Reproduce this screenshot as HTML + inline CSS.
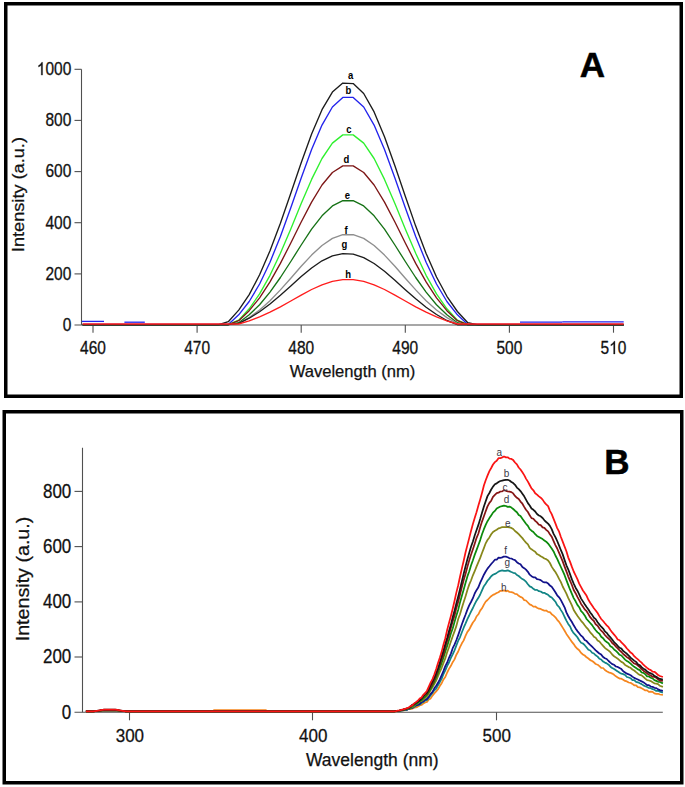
<!DOCTYPE html>
<html><head><meta charset="utf-8"><title>Fluorescence spectra</title>
<style>html,body{margin:0;padding:0;background:#fff;}body{width:685px;height:787px;overflow:hidden;font-family:"Liberation Sans",sans-serif;}svg{display:block;}</style>
</head><body>
<svg width="685" height="787" viewBox="0 0 685 787">
<rect width="685" height="787" fill="#fff"/>
<rect x="5.75" y="3.75" width="675.5" height="392.5" fill="none" stroke="#000" stroke-width="3.5"/>
<rect x="4.25" y="411.75" width="677.5" height="371" fill="none" stroke="#000" stroke-width="3.5"/>
<g stroke="#505050" stroke-width="1.1" fill="none">
<line x1="81.5" y1="69.3" x2="81.5" y2="325"/>
<line x1="74.5" y1="325" x2="624" y2="325"/>
<line x1="74.5" y1="273.9" x2="81.5" y2="273.9"/>
<line x1="74.5" y1="222.7" x2="81.5" y2="222.7"/>
<line x1="74.5" y1="171.6" x2="81.5" y2="171.6"/>
<line x1="74.5" y1="120.4" x2="81.5" y2="120.4"/>
<line x1="74.5" y1="69.3" x2="81.5" y2="69.3"/>
<line x1="93.00" y1="325" x2="93.00" y2="332.7"/>
<line x1="197.10" y1="325" x2="197.10" y2="332.7"/>
<line x1="301.20" y1="325" x2="301.20" y2="332.7"/>
<line x1="405.30" y1="325" x2="405.30" y2="332.7"/>
<line x1="509.40" y1="325" x2="509.40" y2="332.7"/>
<line x1="613.50" y1="325" x2="613.50" y2="332.7"/>
</g>
<text x="62.68" y="330.80" font-family="Liberation Sans, sans-serif" fill="#111" stroke="#111" stroke-width="0.25" font-size="15.5" transform="translate(0,330.80) scale(1,1.2) translate(0,-330.80)">0</text>
<text x="45.44" y="279.66" font-family="Liberation Sans, sans-serif" fill="#111" stroke="#111" stroke-width="0.25" font-size="15.5" transform="translate(0,279.66) scale(1,1.2) translate(0,-279.66)">2</text>
<text x="54.06" y="279.66" font-family="Liberation Sans, sans-serif" fill="#111" stroke="#111" stroke-width="0.25" font-size="15.5" transform="translate(0,279.66) scale(1,1.2) translate(0,-279.66)">0</text>
<text x="62.68" y="279.66" font-family="Liberation Sans, sans-serif" fill="#111" stroke="#111" stroke-width="0.25" font-size="15.5" transform="translate(0,279.66) scale(1,1.2) translate(0,-279.66)">0</text>
<text x="45.44" y="228.52" font-family="Liberation Sans, sans-serif" fill="#111" stroke="#111" stroke-width="0.25" font-size="15.5" transform="translate(0,228.52) scale(1,1.2) translate(0,-228.52)">4</text>
<text x="54.06" y="228.52" font-family="Liberation Sans, sans-serif" fill="#111" stroke="#111" stroke-width="0.25" font-size="15.5" transform="translate(0,228.52) scale(1,1.2) translate(0,-228.52)">0</text>
<text x="62.68" y="228.52" font-family="Liberation Sans, sans-serif" fill="#111" stroke="#111" stroke-width="0.25" font-size="15.5" transform="translate(0,228.52) scale(1,1.2) translate(0,-228.52)">0</text>
<text x="45.44" y="177.38" font-family="Liberation Sans, sans-serif" fill="#111" stroke="#111" stroke-width="0.25" font-size="15.5" transform="translate(0,177.38) scale(1,1.2) translate(0,-177.38)">6</text>
<text x="54.06" y="177.38" font-family="Liberation Sans, sans-serif" fill="#111" stroke="#111" stroke-width="0.25" font-size="15.5" transform="translate(0,177.38) scale(1,1.2) translate(0,-177.38)">0</text>
<text x="62.68" y="177.38" font-family="Liberation Sans, sans-serif" fill="#111" stroke="#111" stroke-width="0.25" font-size="15.5" transform="translate(0,177.38) scale(1,1.2) translate(0,-177.38)">0</text>
<text x="45.44" y="126.24" font-family="Liberation Sans, sans-serif" fill="#111" stroke="#111" stroke-width="0.25" font-size="15.5" transform="translate(0,126.24) scale(1,1.2) translate(0,-126.24)">8</text>
<text x="54.06" y="126.24" font-family="Liberation Sans, sans-serif" fill="#111" stroke="#111" stroke-width="0.25" font-size="15.5" transform="translate(0,126.24) scale(1,1.2) translate(0,-126.24)">0</text>
<text x="62.68" y="126.24" font-family="Liberation Sans, sans-serif" fill="#111" stroke="#111" stroke-width="0.25" font-size="15.5" transform="translate(0,126.24) scale(1,1.2) translate(0,-126.24)">0</text>
<path d="M763 0L583 0L583 1098Q518 1039 412.5 979Q307 920 223 890L223 1057Q374 1125 487 1222Q600 1318 647 1409L763 1409Z" fill="#111" stroke="#111" stroke-width="33.0" transform="translate(36.82,75.10) scale(0.007568,-0.009082)"/>
<text x="45.44" y="75.10" font-family="Liberation Sans, sans-serif" fill="#111" stroke="#111" stroke-width="0.25" font-size="15.5" transform="translate(0,75.10) scale(1,1.2) translate(0,-75.10)">0</text>
<text x="54.06" y="75.10" font-family="Liberation Sans, sans-serif" fill="#111" stroke="#111" stroke-width="0.25" font-size="15.5" transform="translate(0,75.10) scale(1,1.2) translate(0,-75.10)">0</text>
<text x="62.68" y="75.10" font-family="Liberation Sans, sans-serif" fill="#111" stroke="#111" stroke-width="0.25" font-size="15.5" transform="translate(0,75.10) scale(1,1.2) translate(0,-75.10)">0</text>
<text x="80.07" y="354.00" font-family="Liberation Sans, sans-serif" fill="#111" stroke="#111" stroke-width="0.25" font-size="15.5" transform="translate(0,354.00) scale(1,1.2) translate(0,-354.00)">4</text>
<text x="88.69" y="354.00" font-family="Liberation Sans, sans-serif" fill="#111" stroke="#111" stroke-width="0.25" font-size="15.5" transform="translate(0,354.00) scale(1,1.2) translate(0,-354.00)">6</text>
<text x="97.31" y="354.00" font-family="Liberation Sans, sans-serif" fill="#111" stroke="#111" stroke-width="0.25" font-size="15.5" transform="translate(0,354.00) scale(1,1.2) translate(0,-354.00)">0</text>
<text x="184.17" y="354.00" font-family="Liberation Sans, sans-serif" fill="#111" stroke="#111" stroke-width="0.25" font-size="15.5" transform="translate(0,354.00) scale(1,1.2) translate(0,-354.00)">4</text>
<text x="192.79" y="354.00" font-family="Liberation Sans, sans-serif" fill="#111" stroke="#111" stroke-width="0.25" font-size="15.5" transform="translate(0,354.00) scale(1,1.2) translate(0,-354.00)">7</text>
<text x="201.41" y="354.00" font-family="Liberation Sans, sans-serif" fill="#111" stroke="#111" stroke-width="0.25" font-size="15.5" transform="translate(0,354.00) scale(1,1.2) translate(0,-354.00)">0</text>
<text x="288.27" y="354.00" font-family="Liberation Sans, sans-serif" fill="#111" stroke="#111" stroke-width="0.25" font-size="15.5" transform="translate(0,354.00) scale(1,1.2) translate(0,-354.00)">4</text>
<text x="296.89" y="354.00" font-family="Liberation Sans, sans-serif" fill="#111" stroke="#111" stroke-width="0.25" font-size="15.5" transform="translate(0,354.00) scale(1,1.2) translate(0,-354.00)">8</text>
<text x="305.51" y="354.00" font-family="Liberation Sans, sans-serif" fill="#111" stroke="#111" stroke-width="0.25" font-size="15.5" transform="translate(0,354.00) scale(1,1.2) translate(0,-354.00)">0</text>
<text x="392.37" y="354.00" font-family="Liberation Sans, sans-serif" fill="#111" stroke="#111" stroke-width="0.25" font-size="15.5" transform="translate(0,354.00) scale(1,1.2) translate(0,-354.00)">4</text>
<text x="400.99" y="354.00" font-family="Liberation Sans, sans-serif" fill="#111" stroke="#111" stroke-width="0.25" font-size="15.5" transform="translate(0,354.00) scale(1,1.2) translate(0,-354.00)">9</text>
<text x="409.61" y="354.00" font-family="Liberation Sans, sans-serif" fill="#111" stroke="#111" stroke-width="0.25" font-size="15.5" transform="translate(0,354.00) scale(1,1.2) translate(0,-354.00)">0</text>
<text x="496.47" y="354.00" font-family="Liberation Sans, sans-serif" fill="#111" stroke="#111" stroke-width="0.25" font-size="15.5" transform="translate(0,354.00) scale(1,1.2) translate(0,-354.00)">5</text>
<text x="505.09" y="354.00" font-family="Liberation Sans, sans-serif" fill="#111" stroke="#111" stroke-width="0.25" font-size="15.5" transform="translate(0,354.00) scale(1,1.2) translate(0,-354.00)">0</text>
<text x="513.71" y="354.00" font-family="Liberation Sans, sans-serif" fill="#111" stroke="#111" stroke-width="0.25" font-size="15.5" transform="translate(0,354.00) scale(1,1.2) translate(0,-354.00)">0</text>
<text x="600.57" y="354.00" font-family="Liberation Sans, sans-serif" fill="#111" stroke="#111" stroke-width="0.25" font-size="15.5" transform="translate(0,354.00) scale(1,1.2) translate(0,-354.00)">5</text>
<path d="M763 0L583 0L583 1098Q518 1039 412.5 979Q307 920 223 890L223 1057Q374 1125 487 1222Q600 1318 647 1409L763 1409Z" fill="#111" stroke="#111" stroke-width="33.0" transform="translate(609.19,354.00) scale(0.007568,-0.009082)"/>
<text x="617.81" y="354.00" font-family="Liberation Sans, sans-serif" fill="#111" stroke="#111" stroke-width="0.25" font-size="15.5" transform="translate(0,354.00) scale(1,1.2) translate(0,-354.00)">0</text>
<text x="352.5" y="377" font-family="Liberation Sans, sans-serif" fill="#111" stroke="#111" stroke-width="0.25" font-size="16.6" text-anchor="middle">Wavelength (nm)</text>
<text x="0" y="0" font-family="Liberation Sans, sans-serif" fill="#111" stroke="#111" stroke-width="0.25" font-size="16.3" text-anchor="middle" transform="translate(23.8,194.6) rotate(-90) scale(1.115,1)">Intensity (a.u.)</text>
<text x="592.5" y="77.3" font-family="Liberation Sans, sans-serif" font-size="35" font-weight="bold" stroke="#000" stroke-width="0.5" text-anchor="middle">A</text>
<line x1="81.8" y1="321.4" x2="104" y2="321.4" stroke="#2323ec" stroke-width="1.3"/>
<line x1="124.4" y1="322.2" x2="144.8" y2="322.2" stroke="#2323ec" stroke-width="1.3"/>
<line x1="520" y1="322.2" x2="562.3" y2="322.2" stroke="#2323ec" stroke-width="1.3"/>
<line x1="562.3" y1="321.9" x2="623.7" y2="321.9" stroke="#2323ec" stroke-width="1.3"/>
<polyline points="82.6,325.0 93.0,325.0 103.4,325.0 113.8,325.0 124.2,325.0 134.6,325.0 145.1,325.0 155.5,325.0 165.9,325.0 176.3,325.0 186.7,325.0 197.1,325.0 207.5,325.0 217.9,325.0 228.3,321.7 238.7,310.1 249.2,294.6 259.6,274.8 270.0,250.8 280.4,223.2 290.8,193.2 301.2,162.7 311.6,134.0 322.0,109.7 332.4,92.1 342.8,83.1 353.2,83.6 363.7,93.5 374.1,111.9 384.5,136.7 394.9,165.7 405.3,196.3 415.7,226.1 426.1,253.4 436.5,277.0 446.9,296.3 457.4,311.5 467.8,322.7 478.2,325.0 488.6,325.0 499.0,325.0 509.4,325.0 519.8,325.0 530.2,325.0 540.6,325.0 551.0,325.0 561.5,325.0 571.9,325.0 582.3,325.0 592.7,325.0 603.1,325.0 613.5,325.0 623.7,325.0 623.7,325.0" fill="none" stroke="#1c1c1c" stroke-width="1.35" stroke-linejoin="round"/>
<polyline points="82.6,324.5 93.0,324.5 103.4,324.5 113.8,324.5 124.2,324.5 134.6,324.5 145.1,324.5 155.5,324.5 165.9,324.5 176.3,324.5 186.7,324.5 197.1,324.5 207.5,324.5 217.9,324.5 228.3,324.5 238.7,314.8 249.2,301.5 259.6,284.0 270.0,262.2 280.4,236.4 290.8,207.7 301.2,178.0 311.6,149.6 322.0,125.1 332.4,107.0 342.8,97.4 353.2,97.4 363.7,107.0 374.1,125.1 384.5,149.6 394.9,178.0 405.3,207.7 415.7,236.4 426.1,262.2 436.5,284.0 446.9,301.5 457.4,314.8 467.8,324.5 478.2,324.5 488.6,324.5 499.0,324.5 509.4,324.5 519.8,324.5 530.2,324.5 540.6,324.5 551.0,324.5 561.5,324.5 571.9,324.5 582.3,324.5 592.7,324.5 603.1,324.5 613.5,324.5 623.7,324.5 623.7,324.5" fill="none" stroke="#2323ec" stroke-width="1.35" stroke-linejoin="round"/>
<polyline points="82.6,324.6 93.0,324.6 103.4,324.6 113.8,324.6 124.2,324.6 134.6,324.6 145.1,324.6 155.5,324.6 165.9,324.6 176.3,324.6 186.7,324.6 197.1,324.6 207.5,324.6 217.9,324.6 228.3,324.6 238.7,320.2 249.2,308.8 259.6,293.9 270.0,275.3 280.4,253.3 290.8,228.9 301.2,203.6 311.6,179.4 322.0,158.5 332.4,143.1 342.8,134.9 353.2,134.9 363.7,143.1 374.1,158.5 384.5,179.4 394.9,203.6 405.3,228.9 415.7,253.3 426.1,275.3 436.5,293.9 446.9,308.8 457.4,320.2 467.8,324.6 478.2,324.6 488.6,324.6 499.0,324.6 509.4,324.6 519.8,324.6 530.2,324.6 540.6,324.6 551.0,324.6 561.5,324.6 571.9,324.6 582.3,324.6 592.7,324.6 603.1,324.6 613.5,324.6 623.7,324.6 623.7,324.6" fill="none" stroke="#2ef02e" stroke-width="1.35" stroke-linejoin="round"/>
<polyline points="82.6,324.6 93.0,324.6 103.4,324.6 113.8,324.6 124.2,324.6 134.6,324.6 145.1,324.6 155.5,324.6 165.9,324.6 176.3,324.6 186.7,324.6 197.1,324.6 207.5,324.6 217.9,324.6 228.3,324.6 238.7,320.7 249.2,310.7 259.6,297.8 270.0,281.9 280.4,263.4 290.8,243.0 301.2,222.0 311.6,202.1 322.0,185.0 332.4,172.5 342.8,165.9 353.2,165.9 363.7,172.5 374.1,185.0 384.5,202.1 394.9,222.0 405.3,243.0 415.7,263.4 426.1,281.9 436.5,297.8 446.9,310.7 457.4,320.7 467.8,324.6 478.2,324.6 488.6,324.6 499.0,324.6 509.4,324.6 519.8,324.6 530.2,324.6 540.6,324.6 551.0,324.6 561.5,324.6 571.9,324.6 582.3,324.6 592.7,324.6 603.1,324.6 613.5,324.6 623.7,324.6 623.7,324.6" fill="none" stroke="#7d1616" stroke-width="1.35" stroke-linejoin="round"/>
<polyline points="82.6,324.6 93.0,324.6 103.4,324.6 113.8,324.6 124.2,324.6 134.6,324.6 145.1,324.6 155.5,324.6 165.9,324.6 176.3,324.6 186.7,324.6 197.1,324.6 207.5,324.6 217.9,324.6 228.3,324.6 238.7,322.7 249.2,314.8 259.6,304.7 270.0,292.1 280.4,277.5 290.8,261.5 301.2,245.0 311.6,229.2 322.0,215.8 332.4,205.9 342.8,200.7 353.2,200.7 363.7,205.9 374.1,215.8 384.5,229.2 394.9,245.0 405.3,261.5 415.7,277.5 426.1,292.1 436.5,304.7 446.9,314.8 457.4,322.7 467.8,324.6 478.2,324.6 488.6,324.6 499.0,324.6 509.4,324.6 519.8,324.6 530.2,324.6 540.6,324.6 551.0,324.6 561.5,324.6 571.9,324.6 582.3,324.6 592.7,324.6 603.1,324.6 613.5,324.6 623.7,324.6 623.7,324.6" fill="none" stroke="#167216" stroke-width="1.35" stroke-linejoin="round"/>
<polyline points="82.6,324.6 93.0,324.6 103.4,324.6 113.8,324.6 124.2,324.6 134.6,324.6 145.1,324.6 155.5,324.6 165.9,324.6 176.3,324.6 186.7,324.6 197.1,324.6 207.5,324.6 217.9,324.6 228.3,324.6 238.7,323.6 249.2,317.6 259.6,310.0 270.0,300.7 280.4,289.9 290.8,278.3 301.2,266.3 311.6,255.1 322.0,245.5 332.4,238.4 342.8,234.7 353.2,234.7 363.7,238.4 374.1,245.5 384.5,255.1 394.9,266.3 405.3,278.3 415.7,289.9 426.1,300.7 436.5,310.0 446.9,317.6 457.4,323.6 467.8,324.6 478.2,324.6 488.6,324.6 499.0,324.6 509.4,324.6 519.8,324.6 530.2,324.6 540.6,324.6 551.0,324.6 561.5,324.6 571.9,324.6 582.3,324.6 592.7,324.6 603.1,324.6 613.5,324.6 623.7,324.6 623.7,324.6" fill="none" stroke="#8e8e8e" stroke-width="1.35" stroke-linejoin="round"/>
<polyline points="82.6,324.7 93.0,324.7 103.4,324.7 113.8,324.7 124.2,324.7 134.6,324.7 145.1,324.7 155.5,324.7 165.9,324.7 176.3,324.7 186.7,324.7 197.1,324.7 207.5,324.7 217.9,324.7 228.3,324.7 238.7,323.4 249.2,318.2 259.6,311.7 270.0,304.0 280.4,295.2 290.8,285.9 301.2,276.6 311.6,268.0 322.0,260.8 332.4,255.9 342.8,253.6 353.2,254.1 363.7,257.6 374.1,263.5 384.5,271.3 394.9,280.2 405.3,289.7 415.7,298.8 426.1,307.2 436.5,314.5 446.9,320.5 457.4,324.7 467.8,324.7 478.2,324.7 488.6,324.7 499.0,324.7 509.4,324.7 519.8,324.7 530.2,324.7 540.6,324.7 551.0,324.7 561.5,324.7 571.9,324.7 582.3,324.7 592.7,324.7 603.1,324.7 613.5,324.7 623.7,324.7 623.7,324.7" fill="none" stroke="#1c1c1c" stroke-width="1.35" stroke-linejoin="round"/>
<polyline points="82.6,324.0 93.0,324.0 103.4,324.0 113.8,324.0 124.2,324.0 134.6,324.0 145.1,324.0 155.5,324.0 165.9,324.0 176.3,324.0 186.7,324.0 197.1,324.0 207.5,324.0 217.9,324.0 228.3,324.0 238.7,324.0 249.2,320.9 259.6,316.9 270.0,312.2 280.4,306.8 290.8,301.0 301.2,295.1 311.6,289.5 322.0,284.8 332.4,281.4 342.8,279.6 353.2,279.6 363.7,281.4 374.1,284.8 384.5,289.5 394.9,295.1 405.3,301.0 415.7,306.8 426.1,312.2 436.5,316.9 446.9,320.9 457.4,324.0 467.8,324.0 478.2,324.0 488.6,324.0 499.0,324.0 509.4,324.0 519.8,324.0 530.2,324.0 540.6,324.0 551.0,324.0 561.5,324.0 571.9,324.0 582.3,324.0 592.7,324.0 603.1,324.0 613.5,324.0 623.7,324.0 623.7,324.0" fill="none" stroke="#ff1c1c" stroke-width="1.35" stroke-linejoin="round"/>
<text x="350.7" y="79" font-family="Liberation Sans, sans-serif" font-size="9.5" font-weight="bold" text-anchor="middle" transform="translate(0,79) scale(1,1.15) translate(0,-79)">a</text>
<text x="348.5" y="94.2" font-family="Liberation Sans, sans-serif" font-size="9.5" font-weight="bold" text-anchor="middle" transform="translate(0,94.2) scale(1,1.15) translate(0,-94.2)">b</text>
<text x="349" y="133" font-family="Liberation Sans, sans-serif" font-size="9.5" font-weight="bold" text-anchor="middle" transform="translate(0,133) scale(1,1.15) translate(0,-133)">c</text>
<text x="346.3" y="162.8" font-family="Liberation Sans, sans-serif" font-size="9.5" font-weight="bold" text-anchor="middle" transform="translate(0,162.8) scale(1,1.15) translate(0,-162.8)">d</text>
<text x="347.4" y="198.7" font-family="Liberation Sans, sans-serif" font-size="9.5" font-weight="bold" text-anchor="middle" transform="translate(0,198.7) scale(1,1.15) translate(0,-198.7)">e</text>
<text x="346.2" y="234.3" font-family="Liberation Sans, sans-serif" font-size="9.5" font-weight="bold" text-anchor="middle" transform="translate(0,234.3) scale(1,1.15) translate(0,-234.3)">f</text>
<text x="344.3" y="248.5" font-family="Liberation Sans, sans-serif" font-size="9.5" font-weight="bold" text-anchor="middle" transform="translate(0,248.5) scale(1,1.15) translate(0,-248.5)">g</text>
<text x="348.2" y="277.9" font-family="Liberation Sans, sans-serif" font-size="9.5" font-weight="bold" text-anchor="middle" transform="translate(0,277.9) scale(1,1.15) translate(0,-277.9)">h</text>
<g stroke="#505050" stroke-width="1.1" fill="none">
<line x1="82.5" y1="447.7" x2="82.5" y2="712.25"/>
<line x1="74.5" y1="712.25" x2="662.8" y2="712.25"/>
<line x1="74.5" y1="657.0" x2="82.5" y2="657.0"/>
<line x1="74.5" y1="601.9" x2="82.5" y2="601.9"/>
<line x1="74.5" y1="546.6" x2="82.5" y2="546.6"/>
<line x1="74.5" y1="491.4" x2="82.5" y2="491.4"/>
<line x1="129.5" y1="712.25" x2="129.5" y2="720.3"/>
<line x1="312.5" y1="712.25" x2="312.5" y2="720.3"/>
<line x1="496.5" y1="712.25" x2="496.5" y2="720.3"/>
</g>
<text x="71.3" y="718.6" font-family="Liberation Sans, sans-serif" fill="#111" stroke="#111" stroke-width="0.25" font-size="17" text-anchor="end" transform="translate(0,718.6) scale(1,1.15) translate(0,-718.6)">0</text>
<text x="71.3" y="663.4" font-family="Liberation Sans, sans-serif" fill="#111" stroke="#111" stroke-width="0.25" font-size="17" text-anchor="end" transform="translate(0,663.4) scale(1,1.15) translate(0,-663.4)">200</text>
<text x="71.3" y="608.2" font-family="Liberation Sans, sans-serif" fill="#111" stroke="#111" stroke-width="0.25" font-size="17" text-anchor="end" transform="translate(0,608.2) scale(1,1.15) translate(0,-608.2)">400</text>
<text x="71.3" y="553.0" font-family="Liberation Sans, sans-serif" fill="#111" stroke="#111" stroke-width="0.25" font-size="17" text-anchor="end" transform="translate(0,553.0) scale(1,1.15) translate(0,-553.0)">600</text>
<text x="71.3" y="497.8" font-family="Liberation Sans, sans-serif" fill="#111" stroke="#111" stroke-width="0.25" font-size="17" text-anchor="end" transform="translate(0,497.8) scale(1,1.15) translate(0,-497.8)">800</text>
<text x="129.9" y="742" font-family="Liberation Sans, sans-serif" fill="#111" stroke="#111" stroke-width="0.25" font-size="17" text-anchor="middle" transform="translate(0,742) scale(1,1.08) translate(0,-742)">300</text>
<text x="313.3" y="742" font-family="Liberation Sans, sans-serif" fill="#111" stroke="#111" stroke-width="0.25" font-size="17" text-anchor="middle" transform="translate(0,742) scale(1,1.08) translate(0,-742)">400</text>
<text x="496.7" y="742" font-family="Liberation Sans, sans-serif" fill="#111" stroke="#111" stroke-width="0.25" font-size="17" text-anchor="middle" transform="translate(0,742) scale(1,1.08) translate(0,-742)">500</text>
<text x="372.3" y="766" font-family="Liberation Sans, sans-serif" fill="#111" stroke="#111" stroke-width="0.25" font-size="17.5" text-anchor="middle">Wavelength (nm)</text>
<text x="0" y="0" font-family="Liberation Sans, sans-serif" fill="#111" stroke="#111" stroke-width="0.25" font-size="17.5" text-anchor="middle" transform="translate(29.1,579.0) rotate(-90) scale(1.124,1)">Intensity (a.u.)</text>
<text x="617" y="474" font-family="Liberation Sans, sans-serif" font-size="35" font-weight="bold" stroke="#000" stroke-width="0.5" text-anchor="middle">B</text>
<polyline points="85.9,711.4 87.7,711.4 89.6,711.4 91.4,711.4 93.2,711.4 95.1,711.2 96.9,711.0 98.7,710.8 100.6,710.7 102.4,710.5 104.2,710.4 106.1,710.3 107.9,710.3 109.7,710.3 111.6,710.3 113.4,710.3 115.2,710.4 117.1,710.5 118.9,710.7 120.7,710.8 122.6,711.0 124.4,711.2 126.2,711.4 128.1,711.4 129.9,711.4 131.7,711.4 133.6,711.4 135.4,711.4 137.2,711.4 139.1,711.4 140.9,711.4 142.7,711.4 144.6,711.4 146.4,711.4 148.2,711.4 150.1,711.4 151.9,711.4 153.7,711.4 155.6,711.4 157.4,711.4 159.2,711.4 161.1,711.4 162.9,711.4 164.7,711.4 166.6,711.4 168.4,711.4 170.2,711.4 172.1,711.4 173.9,711.4 175.8,711.4 177.6,711.4 179.4,711.4 181.3,711.4 183.1,711.4 184.9,711.4 186.8,711.4 188.6,711.4 190.4,711.4 192.3,711.4 194.1,711.4 195.9,711.4 197.8,711.4 199.6,711.4 201.4,711.4 203.3,711.4 205.1,711.4 206.9,711.4 208.8,711.4 210.6,711.4 212.4,711.4 214.3,710.0 216.1,710.0 217.9,710.0 219.8,710.0 221.6,710.0 223.4,710.0 225.3,710.0 227.1,710.0 228.9,710.0 230.8,710.0 232.6,710.0 234.4,710.0 236.3,710.0 238.1,710.0 239.9,710.0 241.8,710.0 243.6,710.0 245.4,710.0 247.3,710.0 249.1,710.0 250.9,710.0 252.8,710.0 254.6,710.0 256.4,710.0 258.3,710.0 260.1,710.0 261.9,710.0 263.8,710.0 265.6,710.0 267.5,711.4 269.3,711.4 271.1,711.4 273.0,711.4 274.8,711.4 276.6,711.4 278.5,711.4 280.3,711.4 282.1,711.4 284.0,711.4 285.8,711.4 287.6,711.4 289.5,711.4 291.3,711.4 293.1,711.4 295.0,711.4 296.8,711.4 298.6,711.4 300.5,711.4 302.3,711.4 304.1,711.4 306.0,711.4 307.8,711.4 309.6,711.4 311.5,711.4 313.3,711.4 315.1,711.4 317.0,711.4 318.8,711.4 320.6,711.4 322.5,711.4 324.3,711.4 326.1,711.4 328.0,711.4 329.8,711.4 331.6,711.4 333.5,711.4 335.3,711.4 337.1,711.4 339.0,711.4 340.8,711.4 342.6,711.4 344.5,711.4 346.3,711.4 348.1,711.4 350.0,711.4 351.8,711.4 353.6,711.4 355.5,711.4 357.3,711.4 359.1,711.4 361.0,711.4 362.8,711.4 364.7,711.4 366.5,711.4 368.3,711.4 370.2,711.4 372.0,711.4 373.8,711.4 375.7,711.4 377.5,711.4 379.3,711.4 381.2,711.4 383.0,711.4 384.8,711.4 386.7,711.4 388.5,711.4 390.3,711.4 392.2,711.4 394.0,711.4 395.8,711.3 397.7,711.1 399.5,710.9 401.3,710.7 403.2,710.5 405.0,710.2 406.8,709.5 408.7,709.1 410.5,709.1 412.3,708.7 414.2,707.7 416.0,707.4 417.8,706.6 419.7,705.4 421.5,705.0 423.3,703.6 425.2,702.4 427.0,701.9 428.8,699.5 430.7,698.4 432.5,695.6 434.3,693.4 436.2,691.4 438.0,689.3 439.8,686.1 441.7,683.2 443.5,679.4 445.3,676.9 447.2,672.5 449.0,668.9 450.9,665.8 452.7,662.2 454.5,659.4 456.4,654.7 458.2,651.5 460.0,647.1 461.9,643.3 463.7,640.4 465.5,635.9 467.4,631.9 469.2,629.6 471.0,626.0 472.9,622.5 474.7,620.3 476.5,616.5 478.4,614.3 480.2,610.6 482.0,608.3 483.9,604.6 485.7,601.6 487.5,600.0 489.4,598.0 491.2,596.2 493.0,594.9 494.9,594.1 496.7,593.0 498.5,592.2 500.4,590.8 502.2,590.9 504.0,590.4 505.9,591.3 507.7,590.7 509.5,592.0 511.4,592.1 513.2,592.6 515.0,593.9 516.9,594.2 518.7,595.8 520.5,596.9 522.4,597.8 524.2,600.1 526.0,600.5 527.9,602.5 529.7,604.4 531.5,605.1 533.4,606.6 535.2,606.5 537.0,607.8 538.9,608.7 540.7,608.9 542.6,609.9 544.4,610.7 546.2,610.5 548.1,611.9 549.9,612.2 551.7,614.2 553.6,615.6 555.4,617.3 557.2,619.8 559.1,621.9 560.9,624.7 562.7,627.6 564.6,630.8 566.4,633.9 568.2,636.4 570.1,639.3 571.9,641.9 573.7,644.1 575.6,646.9 577.4,648.8 579.2,650.2 581.1,652.9 582.9,654.5 584.7,655.5 586.6,657.3 588.4,658.5 590.2,660.1 592.1,661.0 593.9,662.3 595.7,664.0 597.6,664.7 599.4,666.2 601.2,667.8 603.1,668.0 604.9,670.0 606.7,671.2 608.6,672.3 610.4,672.8 612.2,673.6 614.1,674.8 615.9,676.3 617.7,677.4 619.6,678.6 621.4,678.7 623.2,679.7 625.1,680.9 626.9,681.4 628.7,682.5 630.6,682.8 632.4,683.9 634.2,685.3 636.1,685.3 637.9,687.2 639.8,687.4 641.6,688.3 643.4,689.3 645.3,690.4 647.1,690.3 648.9,691.8 650.8,691.7 652.6,691.8 654.4,693.3 656.3,693.8 658.1,693.8 659.9,694.5 662.9,694.9" fill="none" stroke="#f5861f" stroke-width="1.75" stroke-linejoin="round"/>
<polyline points="85.9,711.4 87.7,711.4 89.6,711.4 91.4,711.4 93.2,711.4 95.1,711.2 96.9,711.0 98.7,710.8 100.6,710.7 102.4,710.5 104.2,710.4 106.1,710.3 107.9,710.3 109.7,710.3 111.6,710.3 113.4,710.3 115.2,710.4 117.1,710.5 118.9,710.7 120.7,710.8 122.6,711.0 124.4,711.2 126.2,711.4 128.1,711.4 129.9,711.4 131.7,711.4 133.6,711.4 135.4,711.4 137.2,711.4 139.1,711.4 140.9,711.4 142.7,711.4 144.6,711.4 146.4,711.4 148.2,711.4 150.1,711.4 151.9,711.4 153.7,711.4 155.6,711.4 157.4,711.4 159.2,711.4 161.1,711.4 162.9,711.4 164.7,711.4 166.6,711.4 168.4,711.4 170.2,711.4 172.1,711.4 173.9,711.4 175.8,711.4 177.6,711.4 179.4,711.4 181.3,711.4 183.1,711.4 184.9,711.4 186.8,711.4 188.6,711.4 190.4,711.4 192.3,711.4 194.1,711.4 195.9,711.4 197.8,711.4 199.6,711.4 201.4,711.4 203.3,711.4 205.1,711.4 206.9,711.4 208.8,711.4 210.6,711.4 212.4,711.4 214.3,711.4 216.1,711.4 217.9,711.4 219.8,711.4 221.6,711.4 223.4,711.4 225.3,711.4 227.1,711.4 228.9,711.4 230.8,711.4 232.6,711.4 234.4,711.4 236.3,711.4 238.1,711.4 239.9,711.4 241.8,711.4 243.6,711.4 245.4,711.4 247.3,711.4 249.1,711.4 250.9,711.4 252.8,711.4 254.6,711.4 256.4,711.4 258.3,711.4 260.1,711.4 261.9,711.4 263.8,711.4 265.6,711.4 267.5,711.4 269.3,711.4 271.1,711.4 273.0,711.4 274.8,711.4 276.6,711.4 278.5,711.4 280.3,711.4 282.1,711.4 284.0,711.4 285.8,711.4 287.6,711.4 289.5,711.4 291.3,711.4 293.1,711.4 295.0,711.4 296.8,711.4 298.6,711.4 300.5,711.4 302.3,711.4 304.1,711.4 306.0,711.4 307.8,711.4 309.6,711.4 311.5,711.4 313.3,711.4 315.1,711.4 317.0,711.4 318.8,711.4 320.6,711.4 322.5,711.4 324.3,711.4 326.1,711.4 328.0,711.4 329.8,711.4 331.6,711.4 333.5,711.4 335.3,711.4 337.1,711.4 339.0,711.4 340.8,711.4 342.6,711.4 344.5,711.4 346.3,711.4 348.1,711.4 350.0,711.4 351.8,711.4 353.6,711.4 355.5,711.4 357.3,711.4 359.1,711.4 361.0,711.4 362.8,711.4 364.7,711.4 366.5,711.4 368.3,711.4 370.2,711.4 372.0,711.4 373.8,711.4 375.7,711.4 377.5,711.4 379.3,711.4 381.2,711.4 383.0,711.4 384.8,711.4 386.7,711.4 388.5,711.4 390.3,711.4 392.2,711.4 394.0,711.4 395.8,711.2 397.7,711.0 399.5,710.9 401.3,710.6 403.2,710.3 405.0,710.0 406.8,710.0 408.7,708.6 410.5,708.5 412.3,708.0 414.2,707.1 416.0,705.6 417.8,705.2 419.7,704.6 421.5,703.0 423.3,702.0 425.2,700.3 427.0,700.1 428.8,697.6 430.7,695.2 432.5,692.8 434.3,690.3 436.2,688.6 438.0,685.2 439.8,682.2 441.7,678.6 443.5,674.0 445.3,670.4 447.2,665.9 449.0,662.5 450.9,657.9 452.7,654.3 454.5,650.4 456.4,645.4 458.2,640.7 460.0,637.3 461.9,632.2 463.7,627.7 465.5,623.7 467.4,619.1 469.2,615.5 471.0,611.6 472.9,608.0 474.7,604.1 476.5,600.7 478.4,597.8 480.2,594.5 482.0,590.4 483.9,586.2 485.7,583.8 487.5,580.8 489.4,578.6 491.2,576.2 493.0,574.8 494.9,573.9 496.7,572.9 498.5,571.6 500.4,570.8 502.2,570.4 504.0,570.8 505.9,570.8 507.7,570.3 509.5,571.1 511.4,572.0 513.2,572.8 515.0,573.1 516.9,575.0 518.7,576.0 520.5,577.6 522.4,579.1 524.2,580.1 526.0,581.7 527.9,584.3 529.7,586.4 531.5,587.1 533.4,588.8 535.2,590.0 537.0,589.9 538.9,591.2 540.7,591.5 542.6,592.8 544.4,592.8 546.2,593.9 548.1,594.8 549.9,596.6 551.7,597.5 553.6,599.6 555.4,601.7 557.2,605.1 559.1,607.0 560.9,610.1 562.7,612.9 564.6,617.0 566.4,620.6 568.2,623.9 570.1,626.5 571.9,630.6 573.7,633.2 575.6,635.1 577.4,637.2 579.2,640.3 581.1,642.7 582.9,643.5 584.7,645.2 586.6,647.5 588.4,649.8 590.2,650.5 592.1,652.7 593.9,653.5 595.7,655.3 597.6,656.6 599.4,658.8 601.2,659.5 603.1,661.6 604.9,662.6 606.7,663.4 608.6,664.7 610.4,666.7 612.2,668.0 614.1,669.0 615.9,670.2 617.7,671.4 619.6,672.8 621.4,673.7 623.2,674.1 625.1,675.0 626.9,677.0 628.7,677.5 630.6,678.2 632.4,680.1 634.2,680.1 636.1,681.9 637.9,682.3 639.8,683.3 641.6,684.1 643.4,685.4 645.3,686.2 647.1,687.0 648.9,687.9 650.8,688.2 652.6,689.1 654.4,689.8 656.3,690.9 658.1,690.8 659.9,691.6 662.9,692.6" fill="none" stroke="#128585" stroke-width="1.75" stroke-linejoin="round"/>
<polyline points="85.9,711.4 87.7,711.4 89.6,711.4 91.4,711.4 93.2,711.4 95.1,711.2 96.9,711.0 98.7,710.8 100.6,710.7 102.4,710.5 104.2,710.4 106.1,710.3 107.9,710.3 109.7,710.3 111.6,710.3 113.4,710.3 115.2,710.4 117.1,710.5 118.9,710.7 120.7,710.8 122.6,711.0 124.4,711.2 126.2,711.4 128.1,711.4 129.9,711.4 131.7,711.4 133.6,711.4 135.4,711.4 137.2,711.4 139.1,711.4 140.9,711.4 142.7,711.4 144.6,711.4 146.4,711.4 148.2,711.4 150.1,711.4 151.9,711.4 153.7,711.4 155.6,711.4 157.4,711.4 159.2,711.4 161.1,711.4 162.9,711.4 164.7,711.4 166.6,711.4 168.4,711.4 170.2,711.4 172.1,711.4 173.9,711.4 175.8,711.4 177.6,711.4 179.4,711.4 181.3,711.4 183.1,711.4 184.9,711.4 186.8,711.4 188.6,711.4 190.4,711.4 192.3,711.4 194.1,711.4 195.9,711.4 197.8,711.4 199.6,711.4 201.4,711.4 203.3,711.4 205.1,711.4 206.9,711.4 208.8,711.4 210.6,711.4 212.4,711.4 214.3,711.4 216.1,711.4 217.9,711.4 219.8,711.4 221.6,711.4 223.4,711.4 225.3,711.4 227.1,711.4 228.9,711.4 230.8,711.4 232.6,711.4 234.4,711.4 236.3,711.4 238.1,711.4 239.9,711.4 241.8,711.4 243.6,711.4 245.4,711.4 247.3,711.4 249.1,711.4 250.9,711.4 252.8,711.4 254.6,711.4 256.4,711.4 258.3,711.4 260.1,711.4 261.9,711.4 263.8,711.4 265.6,711.4 267.5,711.4 269.3,711.4 271.1,711.4 273.0,711.4 274.8,711.4 276.6,711.4 278.5,711.4 280.3,711.4 282.1,711.4 284.0,711.4 285.8,711.4 287.6,711.4 289.5,711.4 291.3,711.4 293.1,711.4 295.0,711.4 296.8,711.4 298.6,711.4 300.5,711.4 302.3,711.4 304.1,711.4 306.0,711.4 307.8,711.4 309.6,711.4 311.5,711.4 313.3,711.4 315.1,711.4 317.0,711.4 318.8,711.4 320.6,711.4 322.5,711.4 324.3,711.4 326.1,711.4 328.0,711.4 329.8,711.4 331.6,711.4 333.5,711.4 335.3,711.4 337.1,711.4 339.0,711.4 340.8,711.4 342.6,711.4 344.5,711.4 346.3,711.4 348.1,711.4 350.0,711.4 351.8,711.4 353.6,711.4 355.5,711.4 357.3,711.4 359.1,711.4 361.0,711.4 362.8,711.4 364.7,711.4 366.5,711.4 368.3,711.4 370.2,711.4 372.0,711.4 373.8,711.4 375.7,711.4 377.5,711.4 379.3,711.4 381.2,711.4 383.0,711.4 384.8,711.4 386.7,711.4 388.5,711.4 390.3,711.4 392.2,711.4 394.0,711.4 395.8,711.2 397.7,711.0 399.5,710.8 401.3,710.5 403.2,710.2 405.0,709.9 406.8,709.6 408.7,708.9 410.5,708.1 412.3,707.8 414.2,706.2 416.0,705.4 417.8,704.6 419.7,703.9 421.5,702.0 423.3,701.5 425.2,699.6 427.0,698.9 428.8,696.6 430.7,693.8 432.5,691.8 434.3,688.3 436.2,685.8 438.0,682.8 439.8,679.3 441.7,675.1 443.5,670.9 445.3,666.1 447.2,662.5 449.0,657.8 450.9,653.6 452.7,648.2 454.5,644.7 456.4,640.0 458.2,635.1 460.0,629.9 461.9,624.3 463.7,619.4 465.5,614.8 467.4,609.6 469.2,605.4 471.0,602.0 472.9,598.2 474.7,593.5 476.5,590.2 478.4,587.2 480.2,582.6 482.0,578.8 483.9,574.7 485.7,571.5 487.5,568.6 489.4,566.3 491.2,564.0 493.0,562.0 494.9,559.7 496.7,559.7 498.5,557.6 500.4,557.8 502.2,557.4 504.0,556.5 505.9,556.6 507.7,557.3 509.5,558.3 511.4,558.5 513.2,559.5 515.0,560.1 516.9,562.2 518.7,563.5 520.5,564.3 522.4,567.0 524.2,568.2 526.0,569.7 527.9,571.8 529.7,574.7 531.5,576.2 533.4,577.3 535.2,577.3 537.0,579.2 538.9,579.5 540.7,580.1 542.6,581.7 544.4,582.4 546.2,582.3 548.1,583.4 549.9,585.6 551.7,586.8 553.6,589.6 555.4,592.3 557.2,595.3 559.1,597.3 560.9,600.1 562.7,603.6 564.6,607.3 566.4,612.4 568.2,616.0 570.1,619.2 571.9,622.0 573.7,625.3 575.6,628.4 577.4,631.1 579.2,633.3 581.1,635.7 582.9,637.2 584.7,640.0 586.6,641.1 588.4,643.1 590.2,644.9 592.1,646.7 593.9,648.5 595.7,650.4 597.6,652.0 599.4,653.6 601.2,654.6 603.1,657.0 604.9,658.3 606.7,659.0 608.6,661.0 610.4,662.6 612.2,664.1 614.1,664.8 615.9,666.5 617.7,666.9 619.6,668.1 621.4,669.1 623.2,671.2 625.1,672.5 626.9,673.7 628.7,674.3 630.6,675.2 632.4,676.6 634.2,677.9 636.1,678.7 637.9,679.5 639.8,680.5 641.6,681.4 643.4,682.3 645.3,683.6 647.1,685.2 648.9,685.1 650.8,686.5 652.6,686.9 654.4,687.8 656.3,688.1 658.1,689.4 659.9,690.1 662.9,690.8" fill="none" stroke="#12128a" stroke-width="1.75" stroke-linejoin="round"/>
<polyline points="85.9,711.4 87.7,711.4 89.6,711.4 91.4,711.4 93.2,711.4 95.1,711.2 96.9,711.0 98.7,710.8 100.6,710.7 102.4,710.5 104.2,710.4 106.1,710.3 107.9,710.3 109.7,710.3 111.6,710.3 113.4,710.3 115.2,710.4 117.1,710.5 118.9,710.7 120.7,710.8 122.6,711.0 124.4,711.2 126.2,711.4 128.1,711.4 129.9,711.4 131.7,711.4 133.6,711.4 135.4,711.4 137.2,711.4 139.1,711.4 140.9,711.4 142.7,711.4 144.6,711.4 146.4,711.4 148.2,711.4 150.1,711.4 151.9,711.4 153.7,711.4 155.6,711.4 157.4,711.4 159.2,711.4 161.1,711.4 162.9,711.4 164.7,711.4 166.6,711.4 168.4,711.4 170.2,711.4 172.1,711.4 173.9,711.4 175.8,711.4 177.6,711.4 179.4,711.4 181.3,711.4 183.1,711.4 184.9,711.4 186.8,711.4 188.6,711.4 190.4,711.4 192.3,711.4 194.1,711.4 195.9,711.4 197.8,711.4 199.6,711.4 201.4,711.4 203.3,711.4 205.1,711.4 206.9,711.4 208.8,711.4 210.6,711.4 212.4,711.4 214.3,711.4 216.1,711.4 217.9,711.4 219.8,711.4 221.6,711.4 223.4,711.4 225.3,711.4 227.1,711.4 228.9,711.4 230.8,711.4 232.6,711.4 234.4,711.4 236.3,711.4 238.1,711.4 239.9,711.4 241.8,711.4 243.6,711.4 245.4,711.4 247.3,711.4 249.1,711.4 250.9,711.4 252.8,711.4 254.6,711.4 256.4,711.4 258.3,711.4 260.1,711.4 261.9,711.4 263.8,711.4 265.6,711.4 267.5,711.4 269.3,711.4 271.1,711.4 273.0,711.4 274.8,711.4 276.6,711.4 278.5,711.4 280.3,711.4 282.1,711.4 284.0,711.4 285.8,711.4 287.6,711.4 289.5,711.4 291.3,711.4 293.1,711.4 295.0,711.4 296.8,711.4 298.6,711.4 300.5,711.4 302.3,711.4 304.1,711.4 306.0,711.4 307.8,711.4 309.6,711.4 311.5,711.4 313.3,711.4 315.1,711.4 317.0,711.4 318.8,711.4 320.6,711.4 322.5,711.4 324.3,711.4 326.1,711.4 328.0,711.4 329.8,711.4 331.6,711.4 333.5,711.4 335.3,711.4 337.1,711.4 339.0,711.4 340.8,711.4 342.6,711.4 344.5,711.4 346.3,711.4 348.1,711.4 350.0,711.4 351.8,711.4 353.6,711.4 355.5,711.4 357.3,711.4 359.1,711.4 361.0,711.4 362.8,711.4 364.7,711.4 366.5,711.4 368.3,711.4 370.2,711.4 372.0,711.4 373.8,711.4 375.7,711.4 377.5,711.4 379.3,711.4 381.2,711.4 383.0,711.4 384.8,711.4 386.7,711.4 388.5,711.4 390.3,711.4 392.2,711.4 394.0,711.4 395.8,711.2 397.7,710.9 399.5,710.7 401.3,710.3 403.2,709.9 405.0,709.6 406.8,709.1 408.7,708.4 410.5,708.0 412.3,707.2 414.2,706.1 416.0,704.1 417.8,703.5 419.7,701.5 421.5,701.1 423.3,699.6 425.2,697.7 427.0,696.4 428.8,693.5 430.7,690.1 432.5,687.2 434.3,684.0 436.2,680.6 438.0,676.2 439.8,672.0 441.7,667.8 443.5,662.9 445.3,658.4 447.2,652.1 449.0,647.2 450.9,641.5 452.7,636.3 454.5,631.4 456.4,625.9 458.2,619.0 460.0,614.2 461.9,607.8 463.7,602.1 465.5,596.4 467.4,590.0 469.2,584.6 471.0,580.5 472.9,575.3 474.7,571.2 476.5,566.6 478.4,562.2 480.2,557.9 482.0,553.0 483.9,548.1 485.7,543.3 487.5,540.0 489.4,537.4 491.2,534.3 493.0,531.9 494.9,530.7 496.7,529.8 498.5,528.4 500.4,527.8 502.2,527.1 504.0,527.1 505.9,527.0 507.7,527.2 509.5,527.4 511.4,527.9 513.2,529.0 515.0,531.0 516.9,532.5 518.7,534.2 520.5,536.1 522.4,538.1 524.2,540.5 526.0,542.6 527.9,544.3 529.7,547.8 531.5,549.3 533.4,550.6 535.2,551.8 537.0,554.1 538.9,555.1 540.7,556.3 542.6,557.3 544.4,558.5 546.2,559.1 548.1,560.5 549.9,563.0 551.7,566.6 553.6,569.6 555.4,572.0 557.2,575.1 559.1,578.9 560.9,582.2 562.7,586.5 564.6,590.2 566.4,593.7 568.2,597.9 570.1,601.7 571.9,605.4 573.7,610.0 575.6,613.0 577.4,615.8 579.2,618.2 581.1,620.8 582.9,622.8 584.7,625.3 586.6,627.7 588.4,629.7 590.2,632.3 592.1,634.3 593.9,636.8 595.7,637.8 597.6,640.4 599.4,641.5 601.2,643.7 603.1,645.9 604.9,647.8 606.7,649.3 608.6,650.6 610.4,652.2 612.2,654.5 614.1,656.3 615.9,657.4 617.7,658.7 619.6,660.3 621.4,661.9 623.2,662.8 625.1,664.9 626.9,665.9 628.7,667.1 630.6,667.8 632.4,669.5 634.2,670.5 636.1,672.2 637.9,673.7 639.8,674.9 641.6,675.3 643.4,676.8 645.3,678.6 647.1,680.1 648.9,680.5 650.8,681.1 652.6,682.2 654.4,683.3 656.3,683.6 658.1,684.1 659.9,685.8 662.9,686.9" fill="none" stroke="#87871a" stroke-width="1.75" stroke-linejoin="round"/>
<polyline points="85.9,711.4 87.7,711.4 89.6,711.4 91.4,711.4 93.2,711.4 95.1,711.2 96.9,711.0 98.7,710.8 100.6,710.7 102.4,710.5 104.2,710.4 106.1,710.3 107.9,710.3 109.7,710.3 111.6,710.3 113.4,710.3 115.2,710.4 117.1,710.5 118.9,710.7 120.7,710.8 122.6,711.0 124.4,711.2 126.2,711.4 128.1,711.4 129.9,711.4 131.7,711.4 133.6,711.4 135.4,711.4 137.2,711.4 139.1,711.4 140.9,711.4 142.7,711.4 144.6,711.4 146.4,711.4 148.2,711.4 150.1,711.4 151.9,711.4 153.7,711.4 155.6,711.4 157.4,711.4 159.2,711.4 161.1,711.4 162.9,711.4 164.7,711.4 166.6,711.4 168.4,711.4 170.2,711.4 172.1,711.4 173.9,711.4 175.8,711.4 177.6,711.4 179.4,711.4 181.3,711.4 183.1,711.4 184.9,711.4 186.8,711.4 188.6,711.4 190.4,711.4 192.3,711.4 194.1,711.4 195.9,711.4 197.8,711.4 199.6,711.4 201.4,711.4 203.3,711.4 205.1,711.4 206.9,711.4 208.8,711.4 210.6,711.4 212.4,711.4 214.3,711.4 216.1,711.4 217.9,711.4 219.8,711.4 221.6,711.4 223.4,711.4 225.3,711.4 227.1,711.4 228.9,711.4 230.8,711.4 232.6,711.4 234.4,711.4 236.3,711.4 238.1,711.4 239.9,711.4 241.8,711.4 243.6,711.4 245.4,711.4 247.3,711.4 249.1,711.4 250.9,711.4 252.8,711.4 254.6,711.4 256.4,711.4 258.3,711.4 260.1,711.4 261.9,711.4 263.8,711.4 265.6,711.4 267.5,711.4 269.3,711.4 271.1,711.4 273.0,711.4 274.8,711.4 276.6,711.4 278.5,711.4 280.3,711.4 282.1,711.4 284.0,711.4 285.8,711.4 287.6,711.4 289.5,711.4 291.3,711.4 293.1,711.4 295.0,711.4 296.8,711.4 298.6,711.4 300.5,711.4 302.3,711.4 304.1,711.4 306.0,711.4 307.8,711.4 309.6,711.4 311.5,711.4 313.3,711.4 315.1,711.4 317.0,711.4 318.8,711.4 320.6,711.4 322.5,711.4 324.3,711.4 326.1,711.4 328.0,711.4 329.8,711.4 331.6,711.4 333.5,711.4 335.3,711.4 337.1,711.4 339.0,711.4 340.8,711.4 342.6,711.4 344.5,711.4 346.3,711.4 348.1,711.4 350.0,711.4 351.8,711.4 353.6,711.4 355.5,711.4 357.3,711.4 359.1,711.4 361.0,711.4 362.8,711.4 364.7,711.4 366.5,711.4 368.3,711.4 370.2,711.4 372.0,711.4 373.8,711.4 375.7,711.4 377.5,711.4 379.3,711.4 381.2,711.4 383.0,711.4 384.8,711.4 386.7,711.4 388.5,711.4 390.3,711.4 392.2,711.4 394.0,711.4 395.8,711.1 397.7,710.9 399.5,710.6 401.3,710.2 403.2,709.8 405.0,709.4 406.8,708.9 408.7,708.2 410.5,707.9 412.3,706.3 414.2,705.0 416.0,703.7 417.8,702.7 419.7,701.0 421.5,700.2 423.3,698.2 425.2,696.6 427.0,694.4 428.8,691.9 430.7,688.9 432.5,685.2 434.3,681.7 436.2,677.2 438.0,672.8 439.8,667.9 441.7,662.8 443.5,657.5 445.3,651.4 447.2,645.9 449.0,640.1 450.9,633.5 452.7,628.5 454.5,621.9 456.4,615.5 458.2,609.8 460.0,602.4 461.9,595.7 463.7,589.5 465.5,582.9 467.4,576.4 469.2,571.5 471.0,565.5 472.9,560.3 474.7,554.9 476.5,550.1 478.4,545.0 480.2,540.1 482.0,534.3 483.9,529.2 485.7,524.8 487.5,521.2 489.4,518.1 491.2,515.4 493.0,512.6 494.9,510.9 496.7,508.5 498.5,507.5 500.4,506.5 502.2,506.1 504.0,505.7 505.9,506.0 507.7,506.9 509.5,506.6 511.4,507.6 513.2,509.0 515.0,510.7 516.9,512.2 518.7,514.9 520.5,516.0 522.4,518.8 524.2,521.3 526.0,523.7 527.9,525.9 529.7,529.2 531.5,530.7 533.4,532.0 535.2,534.2 537.0,535.9 538.9,537.0 540.7,538.0 542.6,539.1 544.4,540.5 546.2,541.7 548.1,543.6 549.9,546.1 551.7,548.6 553.6,551.4 555.4,555.5 557.2,558.8 559.1,563.2 560.9,567.0 562.7,570.8 564.6,575.2 566.4,580.1 568.2,584.9 570.1,589.7 571.9,593.8 573.7,598.1 575.6,601.3 577.4,604.9 579.2,607.2 581.1,611.2 582.9,612.9 584.7,615.4 586.6,619.0 588.4,621.0 590.2,623.0 592.1,625.1 593.9,627.9 595.7,630.2 597.6,632.4 599.4,633.7 601.2,636.7 603.1,638.2 604.9,640.6 606.7,642.0 608.6,643.4 610.4,646.2 612.2,647.3 614.1,649.5 615.9,650.9 617.7,652.7 619.6,654.8 621.4,655.5 623.2,657.5 625.1,659.6 626.9,661.1 628.7,662.1 630.6,663.6 632.4,665.3 634.2,666.8 636.1,668.0 637.9,669.4 639.8,670.1 641.6,672.5 643.4,672.9 645.3,674.2 647.1,676.4 648.9,676.5 650.8,677.7 652.6,678.4 654.4,680.1 656.3,680.9 658.1,681.8 659.9,682.0 662.9,683.4" fill="none" stroke="#0c8a0c" stroke-width="1.75" stroke-linejoin="round"/>
<polyline points="85.9,711.4 87.7,711.4 89.6,711.4 91.4,711.4 93.2,711.4 95.1,711.2 96.9,711.0 98.7,710.8 100.6,710.7 102.4,710.5 104.2,710.4 106.1,710.3 107.9,710.3 109.7,710.3 111.6,710.3 113.4,710.3 115.2,710.4 117.1,710.5 118.9,710.7 120.7,710.8 122.6,711.0 124.4,711.2 126.2,711.4 128.1,711.4 129.9,711.4 131.7,711.4 133.6,711.4 135.4,711.4 137.2,711.4 139.1,711.4 140.9,711.4 142.7,711.4 144.6,711.4 146.4,711.4 148.2,711.4 150.1,711.4 151.9,711.4 153.7,711.4 155.6,711.4 157.4,711.4 159.2,711.4 161.1,711.4 162.9,711.4 164.7,711.4 166.6,711.4 168.4,711.4 170.2,711.4 172.1,711.4 173.9,711.4 175.8,711.4 177.6,711.4 179.4,711.4 181.3,711.4 183.1,711.4 184.9,711.4 186.8,711.4 188.6,711.4 190.4,711.4 192.3,711.4 194.1,711.4 195.9,711.4 197.8,711.4 199.6,711.4 201.4,711.4 203.3,711.4 205.1,711.4 206.9,711.4 208.8,711.4 210.6,711.4 212.4,711.4 214.3,711.4 216.1,711.4 217.9,711.4 219.8,711.4 221.6,711.4 223.4,711.4 225.3,711.4 227.1,711.4 228.9,711.4 230.8,711.4 232.6,711.4 234.4,711.4 236.3,711.4 238.1,711.4 239.9,711.4 241.8,711.4 243.6,711.4 245.4,711.4 247.3,711.4 249.1,711.4 250.9,711.4 252.8,711.4 254.6,711.4 256.4,711.4 258.3,711.4 260.1,711.4 261.9,711.4 263.8,711.4 265.6,711.4 267.5,711.4 269.3,711.4 271.1,711.4 273.0,711.4 274.8,711.4 276.6,711.4 278.5,711.4 280.3,711.4 282.1,711.4 284.0,711.4 285.8,711.4 287.6,711.4 289.5,711.4 291.3,711.4 293.1,711.4 295.0,711.4 296.8,711.4 298.6,711.4 300.5,711.4 302.3,711.4 304.1,711.4 306.0,711.4 307.8,711.4 309.6,711.4 311.5,711.4 313.3,711.4 315.1,711.4 317.0,711.4 318.8,711.4 320.6,711.4 322.5,711.4 324.3,711.4 326.1,711.4 328.0,711.4 329.8,711.4 331.6,711.4 333.5,711.4 335.3,711.4 337.1,711.4 339.0,711.4 340.8,711.4 342.6,711.4 344.5,711.4 346.3,711.4 348.1,711.4 350.0,711.4 351.8,711.4 353.6,711.4 355.5,711.4 357.3,711.4 359.1,711.4 361.0,711.4 362.8,711.4 364.7,711.4 366.5,711.4 368.3,711.4 370.2,711.4 372.0,711.4 373.8,711.4 375.7,711.4 377.5,711.4 379.3,711.4 381.2,711.4 383.0,711.4 384.8,711.4 386.7,711.4 388.5,711.4 390.3,711.4 392.2,711.4 394.0,711.4 395.8,711.1 397.7,710.8 399.5,710.5 401.3,710.1 403.2,709.7 405.0,709.2 406.8,708.5 408.7,707.7 410.5,707.0 412.3,705.2 414.2,704.2 416.0,702.7 417.8,701.2 419.7,700.5 421.5,698.7 423.3,696.4 425.2,694.6 427.0,693.4 428.8,690.3 430.7,686.7 432.5,683.5 434.3,679.4 436.2,675.3 438.0,669.8 439.8,664.6 441.7,658.9 443.5,654.2 445.3,647.1 447.2,640.7 449.0,635.0 450.9,627.8 452.7,621.3 454.5,615.8 456.4,607.9 458.2,601.7 460.0,594.6 461.9,586.9 463.7,580.1 465.5,574.0 467.4,566.7 469.2,560.5 471.0,554.7 472.9,549.3 474.7,543.8 476.5,538.1 478.4,533.5 480.2,527.3 482.0,521.6 483.9,516.3 485.7,511.2 487.5,506.4 489.4,502.9 491.2,500.7 493.0,496.9 494.9,494.9 496.7,493.2 498.5,492.7 500.4,491.5 502.2,491.4 504.0,490.1 505.9,490.8 507.7,491.3 509.5,491.6 511.4,492.1 513.2,493.4 515.0,495.9 516.9,497.8 518.7,499.0 520.5,501.6 522.4,503.7 524.2,506.9 526.0,509.8 527.9,512.0 529.7,515.3 531.5,518.1 533.4,518.8 535.2,520.9 537.0,522.4 538.9,524.7 540.7,525.1 542.6,527.4 544.4,527.9 546.2,529.8 548.1,531.4 549.9,534.2 551.7,536.7 553.6,541.1 555.4,545.1 557.2,548.5 559.1,552.9 560.9,557.1 562.7,561.4 564.6,566.6 566.4,571.4 568.2,576.3 570.1,580.9 571.9,585.0 573.7,590.0 575.6,593.2 577.4,596.9 579.2,600.1 581.1,603.9 582.9,606.5 584.7,609.4 586.6,611.2 588.4,614.1 590.2,617.2 592.1,619.3 593.9,621.0 595.7,624.3 597.6,625.7 599.4,628.5 601.2,630.7 603.1,632.4 604.9,635.0 606.7,636.8 608.6,638.6 610.4,640.3 612.2,643.0 614.1,644.5 615.9,646.6 617.7,648.3 619.6,650.3 621.4,652.0 623.2,654.0 625.1,655.5 626.9,657.2 628.7,658.1 630.6,660.2 632.4,661.9 634.2,663.5 636.1,664.1 637.9,665.5 639.8,667.2 641.6,669.2 643.4,670.7 645.3,672.1 647.1,673.4 648.9,674.8 650.8,675.5 652.6,676.7 654.4,676.9 656.3,677.8 658.1,679.4 659.9,680.7 662.9,680.9" fill="none" stroke="#861515" stroke-width="1.75" stroke-linejoin="round"/>
<polyline points="85.9,711.4 87.7,711.4 89.6,711.4 91.4,711.4 93.2,711.4 95.1,711.1 96.9,710.8 98.7,710.5 100.6,710.2 102.4,709.9 104.2,709.7 106.1,709.6 107.9,709.5 109.7,709.5 111.6,709.5 113.4,709.6 115.2,709.7 117.1,709.9 118.9,710.2 120.7,710.5 122.6,710.8 124.4,711.1 126.2,711.4 128.1,711.4 129.9,711.4 131.7,711.4 133.6,711.4 135.4,711.4 137.2,711.4 139.1,711.4 140.9,711.4 142.7,711.4 144.6,711.4 146.4,711.4 148.2,711.4 150.1,711.4 151.9,711.4 153.7,711.4 155.6,711.4 157.4,711.4 159.2,711.4 161.1,711.4 162.9,711.4 164.7,711.4 166.6,711.4 168.4,711.4 170.2,711.4 172.1,711.4 173.9,711.4 175.8,711.4 177.6,711.4 179.4,711.4 181.3,711.4 183.1,711.4 184.9,711.4 186.8,711.4 188.6,711.4 190.4,711.4 192.3,711.4 194.1,711.4 195.9,711.4 197.8,711.4 199.6,711.4 201.4,711.4 203.3,711.4 205.1,711.4 206.9,711.4 208.8,711.4 210.6,711.4 212.4,711.4 214.3,711.4 216.1,711.4 217.9,711.4 219.8,711.4 221.6,711.4 223.4,711.4 225.3,711.4 227.1,711.4 228.9,711.4 230.8,711.4 232.6,711.4 234.4,711.4 236.3,711.4 238.1,711.4 239.9,711.4 241.8,711.4 243.6,711.4 245.4,711.4 247.3,711.4 249.1,711.4 250.9,711.4 252.8,711.4 254.6,711.4 256.4,711.4 258.3,711.4 260.1,711.4 261.9,711.4 263.8,711.4 265.6,711.4 267.5,711.4 269.3,711.4 271.1,711.4 273.0,711.4 274.8,711.4 276.6,711.4 278.5,711.4 280.3,711.4 282.1,711.4 284.0,711.4 285.8,711.4 287.6,711.4 289.5,711.4 291.3,711.4 293.1,711.4 295.0,711.4 296.8,711.4 298.6,711.4 300.5,711.4 302.3,711.4 304.1,711.4 306.0,711.4 307.8,711.4 309.6,711.4 311.5,711.4 313.3,711.4 315.1,711.4 317.0,711.4 318.8,711.4 320.6,711.4 322.5,711.4 324.3,711.4 326.1,711.4 328.0,711.4 329.8,711.4 331.6,711.4 333.5,711.4 335.3,711.4 337.1,711.4 339.0,711.4 340.8,711.4 342.6,711.4 344.5,711.4 346.3,711.4 348.1,711.4 350.0,711.4 351.8,711.4 353.6,711.4 355.5,711.4 357.3,711.4 359.1,711.4 361.0,711.4 362.8,711.4 364.7,711.4 366.5,711.4 368.3,711.4 370.2,711.4 372.0,711.4 373.8,711.4 375.7,711.4 377.5,711.4 379.3,711.4 381.2,711.4 383.0,711.4 384.8,711.4 386.7,711.4 388.5,711.4 390.3,711.4 392.2,711.4 394.0,711.4 395.8,711.1 397.7,710.8 399.5,710.5 401.3,710.0 403.2,709.6 405.0,709.1 406.8,708.5 408.7,708.0 410.5,706.4 412.3,704.9 414.2,704.2 416.0,702.8 417.8,701.7 419.7,700.2 421.5,698.3 423.3,696.5 425.2,693.8 427.0,692.5 428.8,689.3 430.7,684.9 432.5,681.6 434.3,677.9 436.2,673.0 438.0,668.5 439.8,662.7 441.7,656.3 443.5,650.5 445.3,644.1 447.2,637.8 449.0,631.0 450.9,624.6 452.7,617.2 454.5,610.8 456.4,603.2 458.2,596.5 460.0,589.3 461.9,581.2 463.7,573.7 465.5,566.5 467.4,559.3 469.2,552.9 471.0,546.7 472.9,541.5 474.7,535.5 476.5,530.3 478.4,524.9 480.2,519.1 482.0,512.7 483.9,506.6 485.7,501.2 487.5,496.1 489.4,493.0 491.2,489.5 493.0,486.6 494.9,484.3 496.7,483.4 498.5,482.0 500.4,481.0 502.2,480.6 504.0,480.2 505.9,479.8 507.7,479.8 509.5,480.5 511.4,482.0 513.2,483.1 515.0,484.8 516.9,487.6 518.7,489.2 520.5,491.1 522.4,493.7 524.2,496.3 526.0,499.6 527.9,503.1 529.7,505.5 531.5,508.5 533.4,509.8 535.2,511.5 537.0,514.0 538.9,515.5 540.7,516.3 542.6,518.0 544.4,520.3 546.2,522.0 548.1,523.6 549.9,525.9 551.7,529.2 553.6,533.9 555.4,537.1 557.2,541.0 559.1,545.6 560.9,550.2 562.7,554.4 564.6,560.1 566.4,565.3 568.2,569.3 570.1,574.4 571.9,579.4 573.7,583.6 575.6,587.7 577.4,590.7 579.2,594.3 581.1,598.6 582.9,601.4 584.7,604.2 586.6,607.0 588.4,609.4 590.2,612.5 592.1,614.9 593.9,617.7 595.7,619.1 597.6,622.2 599.4,624.5 601.2,626.7 603.1,628.6 604.9,631.3 606.7,632.8 608.6,635.4 610.4,637.4 612.2,639.5 614.1,642.2 615.9,643.8 617.7,645.9 619.6,647.8 621.4,648.6 623.2,651.0 625.1,652.4 626.9,653.8 628.7,655.7 630.6,657.7 632.4,659.1 634.2,660.6 636.1,661.9 637.9,664.2 639.8,665.2 641.6,667.2 643.4,668.7 645.3,669.6 647.1,671.5 648.9,672.6 650.8,673.4 652.6,674.2 654.4,675.9 656.3,676.7 658.1,677.9 659.9,678.9 662.9,679.7" fill="none" stroke="#161616" stroke-width="1.75" stroke-linejoin="round"/>
<polyline points="85.9,711.4 87.7,711.4 89.6,711.4 91.4,711.4 93.2,711.4 95.1,711.1 96.9,710.8 98.7,710.5 100.6,710.2 102.4,709.9 104.2,709.7 106.1,709.6 107.9,709.5 109.7,709.5 111.6,709.5 113.4,709.6 115.2,709.7 117.1,709.9 118.9,710.2 120.7,710.5 122.6,710.8 124.4,711.1 126.2,711.4 128.1,711.4 129.9,711.4 131.7,711.4 133.6,711.4 135.4,711.4 137.2,711.4 139.1,711.4 140.9,711.4 142.7,711.4 144.6,711.4 146.4,711.4 148.2,711.4 150.1,711.4 151.9,711.4 153.7,711.4 155.6,711.4 157.4,711.4 159.2,711.4 161.1,711.4 162.9,711.4 164.7,711.4 166.6,711.4 168.4,711.4 170.2,711.4 172.1,711.4 173.9,711.4 175.8,711.4 177.6,711.4 179.4,711.4 181.3,711.4 183.1,711.4 184.9,711.4 186.8,711.4 188.6,711.4 190.4,711.4 192.3,711.4 194.1,711.4 195.9,711.4 197.8,711.4 199.6,711.4 201.4,711.4 203.3,711.4 205.1,711.4 206.9,711.4 208.8,711.4 210.6,711.4 212.4,711.4 214.3,711.4 216.1,711.4 217.9,711.4 219.8,711.4 221.6,711.4 223.4,711.4 225.3,711.4 227.1,711.4 228.9,711.4 230.8,711.4 232.6,711.4 234.4,711.4 236.3,711.4 238.1,711.4 239.9,711.4 241.8,711.4 243.6,711.4 245.4,711.4 247.3,711.4 249.1,711.4 250.9,711.4 252.8,711.4 254.6,711.4 256.4,711.4 258.3,711.4 260.1,711.4 261.9,711.4 263.8,711.4 265.6,711.4 267.5,711.4 269.3,711.4 271.1,711.4 273.0,711.4 274.8,711.4 276.6,711.4 278.5,711.4 280.3,711.4 282.1,711.4 284.0,711.4 285.8,711.4 287.6,711.4 289.5,711.4 291.3,711.4 293.1,711.4 295.0,711.4 296.8,711.4 298.6,711.4 300.5,711.4 302.3,711.4 304.1,711.4 306.0,711.4 307.8,711.4 309.6,711.4 311.5,711.4 313.3,711.4 315.1,711.4 317.0,711.4 318.8,711.4 320.6,711.4 322.5,711.4 324.3,711.4 326.1,711.4 328.0,711.4 329.8,711.4 331.6,711.4 333.5,711.4 335.3,711.4 337.1,711.4 339.0,711.4 340.8,711.4 342.6,711.4 344.5,711.4 346.3,711.4 348.1,711.4 350.0,711.4 351.8,711.4 353.6,711.4 355.5,711.4 357.3,711.4 359.1,711.4 361.0,711.4 362.8,711.4 364.7,711.4 366.5,711.4 368.3,711.4 370.2,711.4 372.0,711.4 373.8,711.4 375.7,711.4 377.5,711.4 379.3,711.4 381.2,711.4 383.0,711.4 384.8,711.4 386.7,711.4 388.5,711.4 390.3,711.4 392.2,711.4 394.0,711.4 395.8,711.1 397.7,710.7 399.5,710.4 401.3,709.9 403.2,709.4 405.0,708.9 406.8,708.2 408.7,707.6 410.5,706.1 412.3,705.4 414.2,703.4 416.0,702.1 417.8,700.7 419.7,698.5 421.5,697.4 423.3,694.8 425.2,693.0 427.0,690.7 428.8,686.6 430.7,682.4 432.5,679.1 434.3,674.5 436.2,669.0 438.0,663.1 439.8,657.8 441.7,651.6 443.5,644.4 445.3,638.2 447.2,629.7 449.0,623.1 450.9,616.0 452.7,608.7 454.5,601.0 456.4,592.4 458.2,585.2 460.0,576.7 461.9,568.4 463.7,560.7 465.5,552.5 467.4,545.1 469.2,538.1 471.0,531.0 472.9,524.0 474.7,518.1 476.5,512.3 478.4,505.6 480.2,499.4 482.0,492.9 483.9,485.5 485.7,480.3 487.5,475.6 489.4,471.1 491.2,468.0 493.0,464.5 494.9,462.1 496.7,460.8 498.5,458.2 500.4,458.2 502.2,457.4 504.0,456.5 505.9,457.4 507.7,457.3 509.5,458.6 511.4,458.9 513.2,460.1 515.0,462.5 516.9,464.4 518.7,467.5 520.5,469.5 522.4,472.3 524.2,475.1 526.0,478.6 527.9,481.6 529.7,485.0 531.5,488.4 533.4,490.3 535.2,493.2 537.0,494.6 538.9,496.4 540.7,497.7 542.6,499.6 544.4,502.4 546.2,504.4 548.1,506.1 549.9,510.8 551.7,514.1 553.6,518.8 555.4,523.4 557.2,528.1 559.1,531.7 560.9,537.0 562.7,541.6 564.6,546.6 566.4,551.2 568.2,557.3 570.1,561.9 571.9,566.9 573.7,571.5 575.6,575.3 577.4,579.1 579.2,583.6 581.1,587.2 582.9,590.5 584.7,592.9 586.6,595.8 588.4,599.8 590.2,602.8 592.1,605.6 593.9,608.2 595.7,610.5 597.6,613.0 599.4,616.1 601.2,619.0 603.1,621.0 604.9,623.3 606.7,625.4 608.6,627.2 610.4,629.9 612.2,632.4 614.1,634.6 615.9,636.8 617.7,639.5 619.6,640.3 621.4,642.4 623.2,644.1 625.1,646.1 626.9,648.5 628.7,650.4 630.6,652.6 632.4,653.8 634.2,656.2 636.1,657.9 637.9,659.4 639.8,661.1 641.6,662.6 643.4,664.7 645.3,666.4 647.1,667.9 648.9,669.3 650.8,670.1 652.6,671.7 654.4,671.8 656.3,673.3 658.1,675.0 659.9,676.0 662.9,677.0" fill="none" stroke="#fa1414" stroke-width="1.75" stroke-linejoin="round"/>
<text x="499.2" y="455.9" font-family="Liberation Sans, sans-serif" font-size="10" fill="#3a3a48" text-anchor="middle" transform="translate(0,455.9) scale(1,1.15) translate(0,-455.9)">a</text>
<text x="506.6" y="477.3" font-family="Liberation Sans, sans-serif" font-size="10" fill="#3a3a48" text-anchor="middle" transform="translate(0,477.3) scale(1,1.15) translate(0,-477.3)">b</text>
<text x="504.9" y="491.4" font-family="Liberation Sans, sans-serif" font-size="10" fill="#3a3a48" text-anchor="middle" transform="translate(0,491.4) scale(1,1.15) translate(0,-491.4)">c</text>
<text x="506.6" y="503.5" font-family="Liberation Sans, sans-serif" font-size="10" fill="#3a3a48" text-anchor="middle" transform="translate(0,503.5) scale(1,1.15) translate(0,-503.5)">d</text>
<text x="507.8" y="526.6" font-family="Liberation Sans, sans-serif" font-size="10" fill="#3a3a48" text-anchor="middle" transform="translate(0,526.6) scale(1,1.15) translate(0,-526.6)">e</text>
<text x="505.6" y="554.5" font-family="Liberation Sans, sans-serif" font-size="10" fill="#3a3a48" text-anchor="middle" transform="translate(0,554.5) scale(1,1.15) translate(0,-554.5)">f</text>
<text x="507.2" y="566.2" font-family="Liberation Sans, sans-serif" font-size="10" fill="#3a3a48" text-anchor="middle" transform="translate(0,566.2) scale(1,1.15) translate(0,-566.2)">g</text>
<text x="503.8" y="591.2" font-family="Liberation Sans, sans-serif" font-size="10" fill="#3a3a48" text-anchor="middle" transform="translate(0,591.2) scale(1,1.15) translate(0,-591.2)">h</text>
</svg>
</body></html>
